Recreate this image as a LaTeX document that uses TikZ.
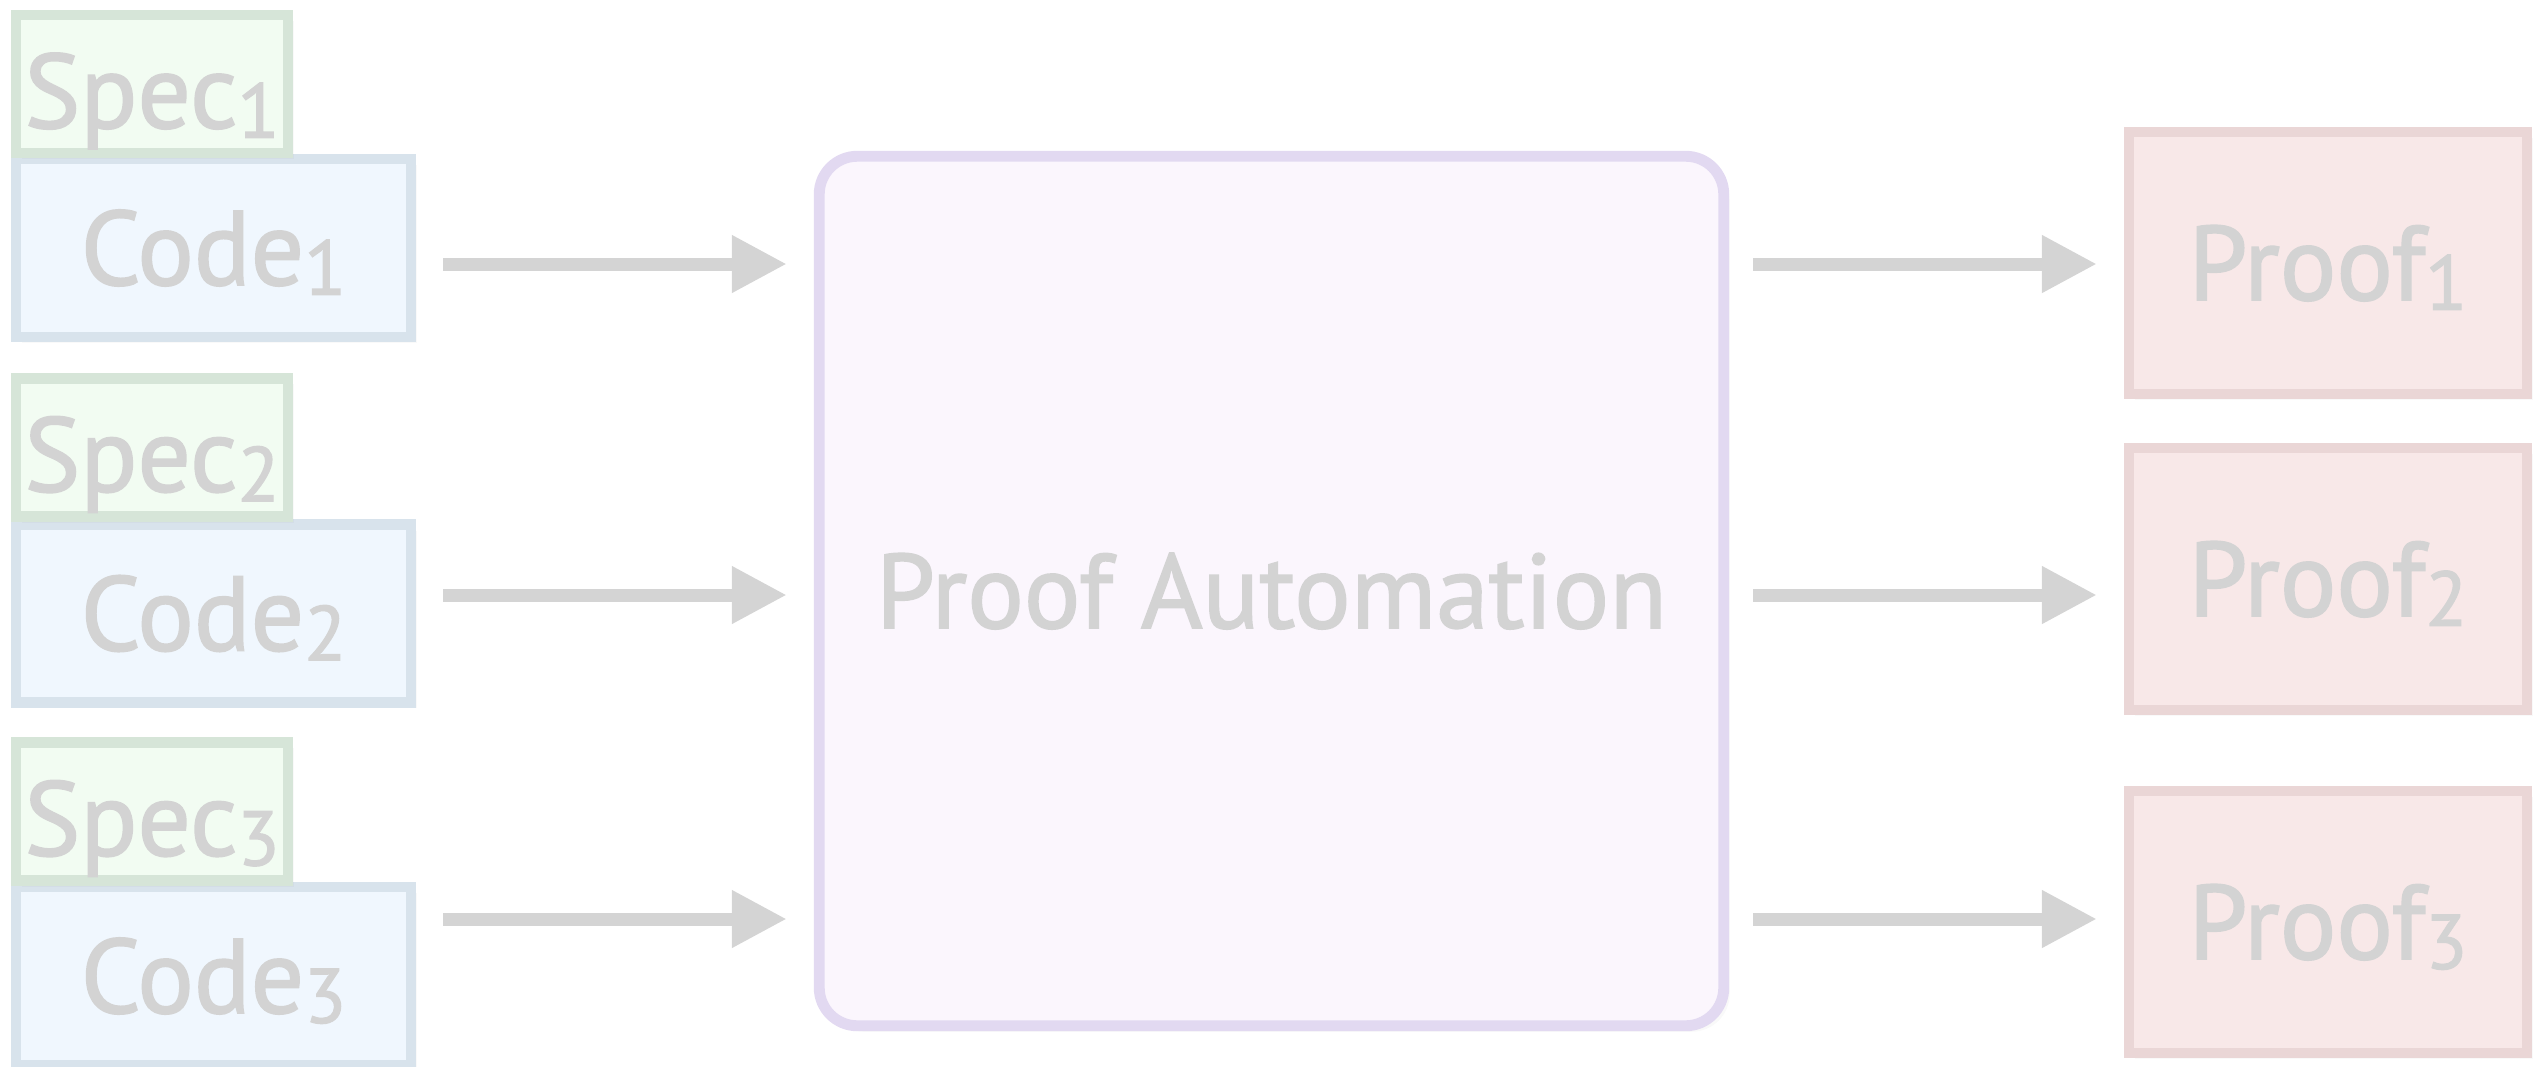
\documentclass[tikz,border=0pt]{standalone}
\usepackage{fontspec}
\setmainfont{PT Sans}
\newfontfamily\lblfont{PT Sans}[FakeBold=1.6]
\usetikzlibrary{arrows.meta,shadows}
\definecolor{labelgray}{HTML}{D3D3D3}
\definecolor{arrowgray}{HTML}{D4D4D4}
\definecolor{specfill}{HTML}{F2FCF2}
\definecolor{specline}{HTML}{D6E5D8}
\definecolor{codefill}{HTML}{F0F7FE}
\definecolor{codeline}{HTML}{D8E3EC}
\definecolor{prooffill}{HTML}{F8E8E8}
\definecolor{proofline}{HTML}{EAD6D6}
\definecolor{autofill}{HTML}{FBF6FD}
\definecolor{autoline}{HTML}{E2D9F1}
\newcommand{\idxnum}[1]{\raisebox{-2.8pt}{\fontsize{22}{22}\selectfont #1}}
\tikzset{
  box/.style={draw, line width=3pt, inner sep=0pt, text=labelgray,
    font=\lblfont\fontsize{30}{36}\selectfont, text height=21pt, text depth=0pt,
    drop shadow={opacity=0.05, shadow xshift=0.6mm, shadow yshift=-0.6mm}},
  specbox/.style={box, draw=specline, fill=specfill,
    minimum width=2.715cm, minimum height=1.38cm, text height=25pt},
  codebox/.style={box, draw=codeline, fill=codefill,
    minimum width=3.945cm, minimum height=1.775cm},
  proofbox/.style={box, draw=proofline, fill=prooffill,
    minimum width=3.975cm, minimum height=2.615cm},
  engine/.style={box, draw=autoline, fill=autofill, line width=3.1pt,
    rounded corners=0.38cm, minimum width=9.04cm, minimum height=8.69cm},
  flow/.style={draw=arrowgray, line width=3.7pt,
    -{Triangle[length=15.6pt,width=15.4pt]}}
}

\begin{document}
\begin{tikzpicture}[x=0.01cm,y=-0.01cm]
  \useasboundingbox (0,0) rectangle (2547,1066);

  % inputs: code under its spec
  \node[codebox] (code1) at (213.5,248) {Code\idxnum{1}};
  \node[specbox] (spec1) at (152,84) {Spec\idxnum{1}};
  \node[codebox] (code2) at (213.5,613.5) {Code\idxnum{2}};
  \node[specbox] (spec2) at (152,447.5) {Spec\idxnum{2}};
  \node[codebox] (code3) at (213.5,976) {Code\idxnum{3}};
  \node[specbox] (spec3) at (152,811.5) {Spec\idxnum{3}};

  \node[engine] (auto) at (1271.5,591) {Proof Automation};

  \node[proofbox] (proof1) at (2328,263) {Proof\idxnum{1}};
  \node[proofbox] (proof2) at (2328,579) {Proof\idxnum{2}};
  \node[proofbox] (proof3) at (2328,922) {Proof\idxnum{3}};

  \foreach \i/\y in {1/264,2/595,3/919} {
    \coordinate (row\i) at (0,\y);
    \draw[flow, shorten <=0.27cm, shorten >=0.27cm]
      (code\i.east |- row\i) -- (auto.west |- row\i);
    \draw[flow, shorten <=0.24cm, shorten >=0.27cm]
      (auto.east |- row\i) -- (proof\i.west |- row\i);
  }
\end{tikzpicture}
\end{document}
